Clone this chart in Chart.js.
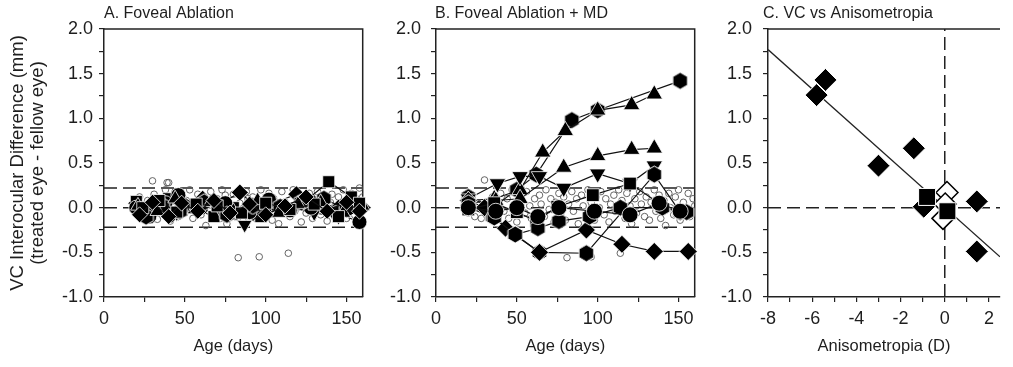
<!DOCTYPE html>
<html><head><meta charset="utf-8">
<script src="https://cdn.jsdelivr.net/npm/chart.js@4.4.0/dist/chart.umd.min.js"></script>
<style>
html,body{margin:0;padding:0;background:#fff;}
#wrap{position:relative;width:1013px;height:367px;overflow:hidden;background:#fff;}
canvas{position:absolute;top:0;}
</style></head><body>
<div id="wrap">
<canvas id="cA" style="left:0px" width="372" height="367"></canvas>
<canvas id="cB" style="left:380px" width="325" height="367"></canvas>
<canvas id="cC" style="left:705px" width="308" height="367"></canvas>
</div>
<script>
// ---------- tick values ----------
const abXTicks = [0,25,50,75,100,125,150];
const abXLabels = [0,50,100,150];
const yTicks = [-1,-0.75,-0.5,-0.25,0,0.25,0.5,0.75,1,1.25,1.5,1.75,2];
const yLabels = [-1,-0.5,0,0.5,1,1.5,2];
const cXTicks = [-8,-7,-6,-5,-4,-3,-2,-1,0,1,2];
const cXLabels = [-8,-6,-4,-2,0,2];
const sdLevels = [0.22,0,-0.22];

// ---------- Panel A: individual open circles ----------
const aCloudX = [20,21,22,24,25,27,28,30,31,32,33,35,36,38,39,40,41,43,44,46,48,50,51,53,55,56,58,60,62,63,65,66,68,70,72,73,75,76,78,80,81,83,84,86,88,89,90,92,94,96,97,99,100,102,104,105,107,108,110,112,114,115,117,118,120,122,124,125,127,129,131,132,134,136,138,140,141,143,145,146,148,150,151,153,155,156,158,159,160];
const aCloudY = [0.05,-0.08,0.12,-0.1,0.02,0.08,-0.12,0.3,0.15,-0.02,-0.13,0.1,-0.05,0.2,0.28,0.28,-0.15,0.05,0.18,-0.1,0.12,-0.06,0.08,0.2,-0.12,0.03,0.15,-0.08,0.12,-0.2,0.06,0.18,-0.05,0.1,-0.12,0.2,0.14,-0.18,0.02,0.15,-0.1,-0.56,0.05,-0.15,0.18,0.1,-0.06,0.12,-0.12,-0.55,0.2,0.06,-0.08,0.16,-0.14,0.1,0.02,-0.18,0.18,0.06,-0.51,-0.1,0.2,-0.04,0.12,-0.16,0.08,-0.06,0.16,-0.12,0.02,0.18,-0.08,0.1,-0.15,0.06,0.15,-0.1,0.12,-0.04,0.2,-0.12,0.05,0.16,-0.08,0.1,0.22,-0.05,0.12];

// ---------- Panel A: animals ----------
const aDia1X = [20,27,35,42,50,61,70,84,95,105,119,130,145,160];
const aDia1Y = [0.05,-0.06,0.02,-0.08,0.03,0.1,0.02,0.17,0.0,0.05,0.15,0.05,0.0,0.0];
const aDia2X = [22,30,40,48,58,68,78,90,100,112,125,138,150,158];
const aDia2Y = [-0.08,0.06,-0.1,0.05,-0.04,0.08,-0.06,0.04,-0.08,0.02,0.12,-0.04,0.06,-0.04];
const aSq1X = [20,30,40,55,68,80,97,110,125,139,153];
const aSq1Y = [0.07,-0.03,0.1,0.0,-0.1,0.0,-0.1,0.03,0.08,0.29,0.12];
const aSq2X = [24,34,45,57,70,85,100,115,130,145,158];
const aSq2Y = [0.0,0.08,-0.05,0.04,0.02,-0.06,0.05,-0.02,0.04,-0.1,0.05];
const aTriDX = [22,32,45,58,72,87,100,115,130,145,158];
const aTriDY = [-0.05,0.03,-0.06,0.05,-0.02,-0.19,-0.05,0.0,-0.06,-0.1,-0.05];
const aCirX = [20,28,38,46,60,75,90,102,115,128,144,158];
const aCirY = [0.0,-0.1,0.05,0.14,0.0,0.05,-0.05,0.09,-0.03,0.0,-0.06,-0.16];
const aHexX = [26,36,47,62,76,92,109,122,136,150];
const aHexY = [-0.1,0.02,-0.04,0.06,-0.08,0.02,0.01,0.06,0.1,-0.02];
const aTriUX = [21,33,44,56,66,80,95,108,120,134,148,160];
const aTriUY = [0.02,-0.04,0.1,-0.02,0.06,-0.04,0.08,-0.06,0.04,0.06,-0.06,0.02];

// ---------- Panel B: individual open circles ----------
const bCloudX = [20,22,24,26,28,30,31,33,35,37,39,40,42,44,45,47,48,50,52,53,55,56,58,59,61,62,64,65,67,68,70,71,73,74,76,77,79,80,81,82,84,85,87,88,90,91,93,94,96,96,98,99,101,102,104,105,107,108,110,111,113,114,115,117,118,120,121,123,124,126,127,129,130,132,133,135,136,138,139,141,142,144,145,147,148,150,151,153,154,156,157,159,160];
const bCloudY = [-0.06,0.08,-0.1,0.05,-0.12,0.31,0.02,-0.08,0.12,-0.14,0.06,0.16,-0.04,0.1,-0.12,0.2,0.0,-0.16,0.08,0.14,-0.06,0.18,0.02,-0.12,0.1,-0.2,0.14,0.04,-0.1,0.2,-0.02,0.1,-0.16,0.06,0.16,-0.08,0.12,-0.14,-0.56,0.04,0.18,-0.04,0.1,-0.18,0.14,0.02,-0.1,0.2,-0.55,0.06,-0.14,0.12,0.0,0.18,-0.08,0.1,-0.16,0.04,0.14,-0.04,0.2,-0.51,0.08,-0.12,0.16,0.02,-0.18,0.1,-0.06,0.18,0.04,-0.1,0.12,-0.14,0.06,0.2,-0.04,0.14,-0.12,0.08,-0.2,0.16,0.0,-0.08,0.12,0.2,-0.14,0.06,-0.05,0.16,-0.1,0.1,0.02];

// ---------- Panel B: animals ----------
const bHex1X = [20,35,50,62,84,100,151];
const bHex1Y = [0.12,0.0,0.2,0.37,0.98,1.09,1.42];
const bTri1X = [20,36,52,66,80,100,121,135];
const bTri1Y = [0.08,0.1,0.2,0.62,0.86,1.09,1.15,1.27];
const bTri2X = [20,37,52,79,100,121,135];
const bTri2Y = [0.05,0.08,0.1,0.45,0.58,0.65,0.665];
const bTriDX = [20,38,52,64,79,100,120,135];
const bTriDY = [0.1,0.27,0.35,0.35,0.22,0.38,0.27,0.47];
const bHex2X = [20,35,49,64,93,135,151];
const bHex2Y = [0.0,-0.1,-0.3,-0.5,-0.51,0.37,-0.05];
const bDiaX = [20,30,43,64,93,115,135,156];
const bDiaY = [0.08,0.0,-0.23,-0.5,-0.25,-0.41,-0.49,-0.49];
const bSqX = [20,36,50,62,75,97,120,138];
const bSqY = [-0.02,0.05,-0.05,-0.15,0.01,0.14,0.27,0.05];
const bCir1X = [20,37,50,63,76,98,120,138,151];
const bCir1Y = [0.0,-0.04,0.0,-0.1,0.0,-0.04,-0.08,0.05,-0.04];
const bCir2X = [20,36,49,63,76,95,114,140,155];
const bCir2Y = [0.05,-0.11,-0.3,-0.23,-0.15,-0.1,0.0,0.0,-0.05];

// ---------- Panel C ----------
const cDiaX = [-5.4,-5.8,-1.4,-3.0,-0.95,1.45,1.45];
const cDiaY = [1.43,1.26,0.665,0.47,0.01,0.07,-0.49];
const cSqX = [-0.8,0.12];
const cSqY = [0.12,-0.04];
const cOpenX = [0.1,-0.08,0.02];
const cOpenY = [0.17,-0.12,0.04];
const cFitX = [-8,2.5];
const cFitY = [1.77,-0.55];

// ---------- helpers ----------
const FONT = "'Liberation Sans', Arial, sans-serif";
const INK = '#1e1e1e';
const pts = (xs, ys) => xs.map((x,i)=>({x:x, y:ys[i]}));

function hexImg(size){
  const c = document.createElement('canvas');
  c.width = c.height = size + 2;
  const g = c.getContext('2d');
  const r = size/2, cx = c.width/2;
  g.beginPath();
  for(let i=0;i<6;i++){
    const a = -Math.PI/2 + i*Math.PI/3;
    const px = cx + r*Math.cos(a), py = cx + r*Math.sin(a);
    if(i===0) g.moveTo(px,py); else g.lineTo(px,py);
  }
  g.closePath();
  g.fillStyle = '#000'; g.fill();
  g.strokeStyle = '#fff'; g.lineWidth = 1; g.stroke();
  return c;
}
const HEX = hexImg(17);

function series(xs, ys, style, r, rot){
  return {data: pts(xs,ys), showLine:true, borderColor:'#111', borderWidth:1.2,
    pointStyle: style, pointRadius: r, pointRotation: rot||0,
    pointBackgroundColor:'#000', pointBorderColor:'#fff', pointBorderWidth:0.8,
    clip:false, order:1};
}
function cloud(xs, ys){
  return {data: pts(xs,ys), showLine:false, pointStyle:'circle', pointRadius:3.3,
    pointBackgroundColor:'rgba(255,255,255,0)', pointBorderColor:'#555', pointBorderWidth:0.9,
    order:5};
}
function dashed(data){
  return {data:data, showLine:true, borderColor:'#222', borderWidth:1.5, borderDash:[13,6],
    pointRadius:0, order:8};
}

function tickCb(labels, dec){
  return (v) => labels.some(l => Math.abs(l - v) < 1e-9) ? (dec ? Number(v).toFixed(1) : String(v)) : '';
}

function makeChart(id, cfg){
  const framePlugin = {
    id:'frame',
    beforeDatasetsDraw(chart){
      const {ctx, chartArea:a} = chart;
      ctx.save();
      ctx.strokeStyle = '#222'; ctx.lineWidth = 1.5;
      ctx.beginPath();
      ctx.moveTo(a.left, a.top); ctx.lineTo(a.right, a.top);
      if (cfg.rightBorder){ ctx.lineTo(a.right, a.bottom); }
      ctx.stroke();
      ctx.restore();
    },
    afterDraw(chart){
      const {ctx, chartArea:a} = chart;
      ctx.save();
      ctx.fillStyle = INK;
      ctx.font = "16px " + FONT;
      ctx.textBaseline = 'alphabetic';
      ctx.textAlign = 'left';
      ctx.fillText(cfg.title, a.left + cfg.titleDx, 18);
      ctx.restore();
    }
  };
  return new Chart(document.getElementById(id), {
    type:'scatter',
    data:{datasets: cfg.datasets},
    options:{
      responsive:false, animation:false, devicePixelRatio:1,
      layout:{padding:{top:29, right:cfg.padRight, left:0, bottom:0}},
      plugins:{legend:{display:false}, tooltip:{enabled:false}},
      scales:{
        x:{type:'linear', min:cfg.xMin, max:cfg.xMax,
          afterBuildTicks: s => { s.ticks = cfg.xTicks.map(v=>({value:v})); },
          afterFit: s => { s.height = 70; },
          grid:{drawOnChartArea:false, drawTicks:true, tickLength:5, color:'#222', lineWidth:1.2},
          border:{display:true, color:'#222', width:1.5},
          ticks:{autoSkip:false, maxRotation:0, padding:6, color:INK, font:{family:FONT, size:18},
            callback: tickCb(cfg.xLabels, false)},
          title:{display:true, text:cfg.xTitle, color:INK, font:{family:FONT, size:16.5}, padding:{top:0, bottom:11}}
        },
        y:{type:'linear', min:-1, max:2,
          afterBuildTicks: s => { s.ticks = yTicks.map(v=>({value:v})); },
          afterFit: s => { s.width = cfg.yWidth; },
          grid:{drawOnChartArea:false, drawTicks:true, tickLength:5, color:'#222', lineWidth:1.2},
          border:{display:true, color:'#222', width:1.5},
          ticks:{autoSkip:false, padding:cfg.yPad, color:INK, font:{family:FONT, size:18},
            callback: tickCb(yLabels, true)},
          title:{display:!!cfg.yTitle, text:cfg.yTitle || '', color:INK,
            font:{family:FONT, size:18.5, lineHeight:1.08}, padding:{top:8, bottom:0}}
        }
      }
    },
    plugins:[framePlugin]
  });
}

const sdSets = (xmax) => sdLevels.map(v => dashed([{x:0,y:v},{x:xmax,y:v}]));

makeChart('cA', {
  title:'A. Foveal Ablation', titleDx:0, padRight:6, yWidth:104, yPad:6,
  xMin:0, xMax:160, xTicks:abXTicks, xLabels:abXLabels, xTitle:'Age (days)', rightBorder:true,
  yTitle:['VC Interocular Difference (mm)','(treated eye - fellow eye)'],
  datasets:[
    ...sdSets(160),
    cloud(aCloudX, aCloudY),
    series(aDia2X, aDia2Y, 'rectRot', 8),
    series(aSq2X, aSq2Y, 'rect', 8.5),
    series(aTriUX, aTriUY, 'triangle', 8.5),
    series(aHexX, aHexY, HEX, 8),
    series(aCirX, aCirY, 'circle', 7.5),
    series(aTriDX, aTriDY, 'triangle', 8.5, 180),
    series(aSq1X, aSq1Y, 'rect', 8.5),
    series(aDia1X, aDia1Y, 'rectRot', 8.5)
  ]
});

makeChart('cB', {
  title:'B. Foveal Ablation + MD', titleDx:-1, padRight:7, yWidth:56, yPad:10,
  xMin:0, xMax:160, xTicks:abXTicks, xLabels:abXLabels, xTitle:'Age (days)', rightBorder:true,
  datasets:[
    ...sdSets(160),
    cloud(bCloudX, bCloudY),
    series(bCir1X, bCir1Y, 'circle', 8),
    series(bCir2X, bCir2Y, HEX, 8),
    series(bSqX, bSqY, 'rect', 9),
    series(bDiaX, bDiaY, 'rectRot', 9),
    series(bHex2X, bHex2Y, HEX, 8),
    series(bTriDX, bTriDY, 'triangle', 9.5, 180),
    series(bTri2X, bTri2Y, 'triangle', 9.5),
    series(bTri1X, bTri1Y, 'triangle', 9.5),
    series(bHex1X, bHex1Y, HEX, 8)
  ]
});

makeChart('cC', {
  title:'C. VC vs Anisometropia', titleDx:-5, padRight:1, yWidth:63, yPad:11,
  xMin:-8, xMax:2.5, xTicks:cXTicks, xLabels:cXLabels, xTitle:'Anisometropia (D)', rightBorder:false,
  datasets:[
    dashed([{x:-8,y:0},{x:2.5,y:0}]),
    dashed([{x:0,y:-1},{x:0,y:2}]),
    {data: pts(cFitX, cFitY), showLine:true, borderColor:'#222', borderWidth:1.3, pointRadius:0, order:6},
    {data: pts(cOpenX, cOpenY), showLine:false, pointStyle:'rectRot', pointRadius:11,
      pointBackgroundColor:'#fff', pointBorderColor:'#000', pointBorderWidth:1.5, order:3},
    {data: pts(cDiaX, cDiaY), showLine:false, pointStyle:'rectRot', pointRadius:11.5,
      pointBackgroundColor:'#000', pointBorderColor:'#fff', pointBorderWidth:1, order:2},
    {data: pts(cSqX, cSqY), showLine:false, pointStyle:'rect', pointRadius:12,
      pointBackgroundColor:'#000', pointBorderColor:'#fff', pointBorderWidth:1, order:1}
  ]
});
</script>
</body></html>
